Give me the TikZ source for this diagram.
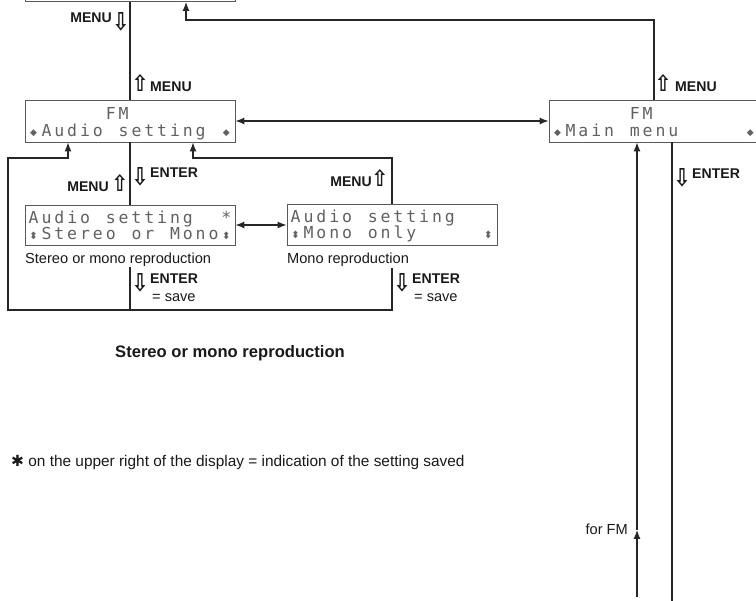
\documentclass[tikz,border=0pt]{standalone}
\usepackage{fontspec}
\usepackage{graphicx}
\setmainfont{Liberation Sans}
\newfontfamily\lcdfont{DejaVu Sans Mono}
\newfontfamily\symfont{DejaVu Sans}
\usetikzlibrary{arrows.meta}
\newlength\lcdpitch \setlength\lcdpitch{12.85pt}
\makeatletter
\def\lcd#1{\lcd@loop#1\relax}
\def\lcd@loop#1{\ifx#1\relax\else\lcd@char#1\expandafter\lcd@loop\fi}
\def\lcd@char#1{\ifx#1_\hbox to\lcdpitch{}\else\hbox to\lcdpitch{\hss#1\hss}\fi}
\makeatother
\newcommand\hg{\raisebox{1pt}{\symfont\fontsize{9}{9}\selectfont ◆}}
\newcommand\vg{\raisebox{0pt}{\symfont\bfseries\fontsize{10}{10}\selectfont ⬍}}
\newcommand\dn{\makebox[10pt]{\symfont\smash{\raisebox{-8pt}{\resizebox{17pt}{18pt}{⇩}}}}}
\newcommand\up{\makebox[10pt]{\symfont\smash{\resizebox{17pt}{17pt}{⇧}}}}
\newcommand\savetxt{\hspace*{17pt}{\mdseries\fontsize{14.6}{16}\selectfont = save}}
\begin{document}
\begin{tikzpicture}[x=1pt,y=-1pt,
  lcdbox/.style={draw=black!65, line width=0.9pt, minimum width=210pt, inner sep=0pt},
  lcdtext/.style={inner sep=0pt, anchor=base west, text=black!62, font=\lcdfont\fontsize{16.5}{17}\selectfont},
  conn/.style={draw=black!85, line width=1.2pt},
  arr/.style={conn, -{Latex[length=9pt,width=7pt]}},
  darr/.style={conn, {Latex[length=9pt,width=7pt]}-{Latex[length=9pt,width=7pt]}},
  lbl/.style={inner sep=0pt, font=\bfseries\fontsize{14.1}{16}\selectfont, text=black!90},
  captxt/.style={inner sep=0pt, font=\fontsize{14.6}{16}\selectfont, text=black!90}]
\useasboundingbox (0,0) rectangle (756,601);
\clip (0,0) rectangle (756,601);
% displays
\node[lcdbox, minimum height=42pt, anchor=south] (top) at (130,2) {};
\node[lcdbox, minimum height=42pt] (audio) at (130,121) {};
\node[lcdbox, minimum height=42pt] (main) at (654,121) {};
\node[lcdbox, minimum height=40pt] (stereo) at (130,225) {};
\node[lcdbox, minimum height=41pt] (mono) at (392,224.5) {};
\node[lcdtext] (audio1) at ([shift={(2.5,20)}]audio.north west) {\lcd{______FM}};
\node[lcdtext] (audio2) at ([shift={(2.5,37)}]audio.north west) {\lcd{\hg Audio_setting_\hg}};
\node[lcdtext] (main1) at ([shift={(2.5,20)}]main.north west) {\lcd{______FM}};
\node[lcdtext] (main2) at ([shift={(2.5,37)}]main.north west) {\lcd{\hg Main_menu_____\hg}};
\node[lcdtext] (stereo1) at ([shift={(2.5,19)}]stereo.north west) {\lcd{Audio_setting__*}};
\node[lcdtext] (stereo2) at ([shift={(2.5,35)}]stereo.north west) {\lcd{\vg Stereo_or_Mono\vg}};
\node[lcdtext] (mono1) at ([shift={(2.5,19)}]mono.north west) {\lcd{Audio_setting}};
\node[lcdtext] (mono2) at ([shift={(2.5,35)}]mono.north west) {\lcd{\vg Mono_only_____\vg}};
% captions
\node[captxt, anchor=base west] (capS) at (25,264) {Stereo or mono reproduction};
\node[captxt, anchor=base west] (capM) at (287,264) {Mono reproduction};
% coordinates
\coordinate (tc) at (186,20);
\coordinate (mm) at (193,158);
\coordinate (la) at (68,158);
\coordinate (bl) at (8,310);
\coordinate (sd) at (130,267);
\coordinate (md) at (392,268);
\coordinate (fmB) at (637,597);
\coordinate (fmM) at (637,530);
\coordinate (enB) at (672,601);
% connectors
\draw[conn] (top.south) -- (audio.north);
\draw[arr] (main.north) |- (tc) -- (tc |- top.south);
\draw[darr] (audio.east) -- (main.west);
\draw[conn] (audio.south) -- (stereo.north);
\draw[arr] (mono.north) |- (mm) -- (mm |- audio.south);
\draw[darr] (stereo.east) -- (stereo.east -| mono.west);
\draw[conn] (sd) -- (sd |- bl);
\draw[arr] (md) |- (bl) |- (la) -- (la |- audio.south);
\draw[arr] (fmB) -- (fmM);
\draw[arr] (fmM) -- (fmM |- main.south);
\draw[conn] (main.south -| enB) -- (enB);
% labels
\node[lbl, anchor=base east] (l1) at (126,23) {MENU\hspace{4pt}\dn};
\node[lbl, anchor=base west] (l2) at (135,92) {\up\hspace{5pt}MENU};
\node[lbl, anchor=base west] (l3) at (135,178) {\dn\hspace{5pt}ENTER};
\node[lbl, anchor=base east] (l4) at (125,192) {MENU\hspace{6pt}\up};
\node[lbl, anchor=base east] (l5) at (385,187) {MENU\hspace{3pt}\up};
\node[lbl, anchor=north west, align=left] (l6) at (135,274) {\dn\hspace{5pt}ENTER\\[2pt]\savetxt};
\node[lbl, anchor=north west, align=left] (l7) at (397,274) {\dn\hspace{5pt}ENTER\\[2pt]\savetxt};
\node[lbl, anchor=base west] (l8) at (658,92) {\up\hspace{7pt}MENU};
\node[lbl, anchor=base west] (l9) at (677,179) {\dn\hspace{5pt}ENTER};
\node[captxt, anchor=base east] (forfm) at (628,535) {for FM};
% title and note
\node[inner sep=0pt, anchor=base west, font=\bfseries\fontsize{16.6}{20}\selectfont, text=black!90] (title) at (115,358) {Stereo or mono reproduction};
\node[captxt, anchor=base west, font=\fontsize{15.4}{17}\selectfont] (note) at (11,467) {{\symfont ✱} on the upper right of the display = indication of the setting saved};
\end{tikzpicture}
\end{document}
